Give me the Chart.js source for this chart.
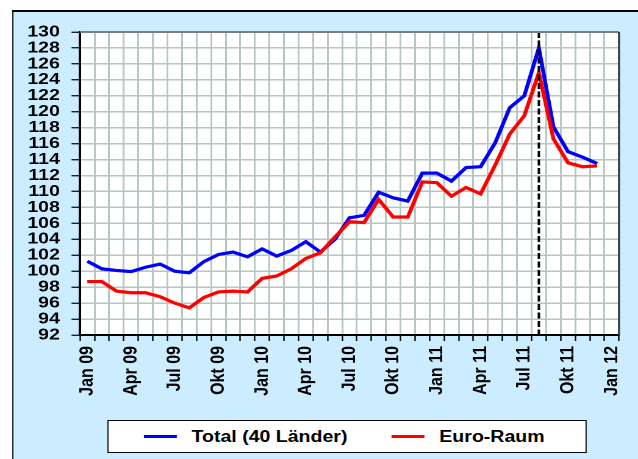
<!DOCTYPE html>
<html>
<head>
<meta charset="utf-8">
<script src="https://cdn.jsdelivr.net/npm/chart.js@4.4.1/dist/chart.umd.min.js"></script>
<style>
  html, body { margin: 0; padding: 0; background: #fff; overflow: hidden; }
  /* the original picture is stretched sideways, so the whole stage is too */
  #stage { position: absolute; left: 0; top: 0; width: 523px; height: 459px; transform: scaleX(1.2199); transform-origin: 0 0; }
  #frame { position: absolute; left: 9.6px; top: 9.5px; width: 540px; height: 470px; background: #CCECFF; border-top: 2px solid #000; border-left: 1.4px solid #000; }
  #wrap { position: absolute; left: 0; top: 0; width: 523px; height: 459px; }
  #legend { position: absolute; left: 87.7px; top: 420px; width: 393.5px; height: 33px; box-sizing: border-box; background: #fff; border: 1.5px solid #000;
            display: flex; align-items: center; padding-left: 29.7px; font: bold 16px "Liberation Sans", Arial, sans-serif; line-height: 16px; color: #000; white-space: nowrap; }
  .item { display: flex; align-items: center; flex-shrink: 0; margin-right: 36.7px; }
  .swatch { width: 26.2px; height: 3px; margin-right: 12.5px; flex-shrink: 0; }
</style>
</head>
<body>
<div id="stage">
  <div id="frame"></div>
  <div id="wrap"><canvas id="myChart"></canvas></div>
  <div id="legend"></div>
</div>
<script>
// monthly categories, Jan 09 .. Jan 12
const months = ['Jan 09', 'Feb 09', 'Mär 09', 'Apr 09', 'Mai 09', 'Jun 09', 'Jul 09', 'Aug 09', 'Sep 09', 'Okt 09', 'Nov 09', 'Dez 09',
                'Jan 10', 'Feb 10', 'Mär 10', 'Apr 10', 'Mai 10', 'Jun 10', 'Jul 10', 'Aug 10', 'Sep 10', 'Okt 10', 'Nov 10', 'Dez 10',
                'Jan 11', 'Feb 11', 'Mär 11', 'Apr 11', 'Mai 11', 'Jun 11', 'Jul 11', 'Aug 11', 'Sep 11', 'Okt 11', 'Nov 11', 'Dez 11',
                'Jan 12'];

const totalLaender = [101.25, 100.3, 100.1, 99.95, 100.5, 100.9, 100.0, 99.8, 101.2, 102.1, 102.4, 101.8,
                      102.8, 101.9, 102.6, 103.7, 102.4, 104.0, 106.7, 107.0, 109.9, 109.2, 108.8, 112.3,
                      112.3, 111.3, 113.0, 113.1, 116.1, 120.5, 122.0, 128.0, 118.1, 115.0, 114.3, 113.5];

const euroRaum = [98.7, 98.7, 97.5, 97.3, 97.3, 96.8, 96.0, 95.4, 96.7, 97.4, 97.5, 97.4,
                  99.1, 99.4, 100.3, 101.6, 102.3, 104.3, 106.2, 106.1, 109.0, 106.8, 106.8, 111.2,
                  111.1, 109.4, 110.5, 109.7, 113.3, 117.2, 119.5, 124.9, 116.6, 113.6, 113.1, 113.2];

const yMin = 92, yMax = 130, yStep = 2;
const markerMonth = 'Aug 11';   // dashed line

const FONT = '"Liberation Sans", Arial, sans-serif';
const gridColor = '#B6C6C0';

const plotFrame = {
	id: 'plotFrame',
	beforeDraw(chart) {
		const a = chart.chartArea, ctx = chart.ctx;
		ctx.save();
		ctx.fillStyle = '#fff';
		ctx.fillRect(a.left, a.top, a.right - a.left, a.bottom - a.top);
		ctx.restore();
	},
	afterDatasetsDraw(chart) {
		const a = chart.chartArea, ctx = chart.ctx;
		const x = chart.scales.x.getPixelForValue(months.indexOf(markerMonth));
		ctx.save();
		ctx.strokeStyle = '#000';
		ctx.lineWidth = 2;
		ctx.setLineDash([6, 2.5]);
		ctx.beginPath();
		ctx.moveTo(x, a.top);
		ctx.lineTo(x, a.bottom);
		ctx.stroke();
		ctx.setLineDash([]);
		// top + right edge of the plot
		ctx.strokeStyle = '#7C7C7C';
		ctx.lineWidth = 2;
		ctx.beginPath();
		ctx.moveTo(a.left, a.top);
		ctx.lineTo(a.right, a.top);
		ctx.stroke();
		ctx.strokeStyle = '#3C3C3C';
		ctx.lineWidth = 1.7;
		ctx.beginPath();
		ctx.moveTo(a.right, a.top);
		ctx.lineTo(a.right, a.bottom);
		ctx.stroke();
		ctx.restore();
	}
};

var ctx = document.getElementById('myChart').getContext('2d');
let config = {
	type: 'line',
	data: {
		labels: months,
		datasets: [{
			label: 'Total (40 Länder)',
			data: totalLaender,
			borderColor: '#0000FF',
			backgroundColor: '#0000FF',
			borderWidth: 3.2,
			pointRadius: 0,
			tension: 0,
			order: 1
		}, {
			label: 'Euro-Raum',
			data: euroRaum,
			borderColor: '#FF0000',
			backgroundColor: '#FF0000',
			borderWidth: 3.2,
			pointRadius: 0,
			tension: 0,
			order: 0
		}]
	},
	options: {
		responsive: true,
		maintainAspectRatio: false,
		animation: false,
		devicePixelRatio: 2,
		layout: { padding: { left: 0, right: 15.6, top: 32, bottom: 0 } },
		plugins: {
			legend: { display: false },
			tooltip: { enabled: false }
		},
		scales: {
			x: {
				offset: true,
				grid: { offset: true, color: gridColor, lineWidth: 1.5, tickLength: 6, tickColor: '#000', tickWidth: 1.2 },
				border: { color: '#000', width: 2 },
				ticks: {
					autoSkip: false, minRotation: 90, maxRotation: 90, padding: 5, color: '#000',
					font: { family: FONT, size: 16, weight: 'bold' },
					callback: function (val, i) { return i % 3 === 0 ? this.getLabelForValue(val) : ''; }
				},
				afterFit: function (scale) {
					scale.height = 124;
					scale.paddingLeft = 0;
					scale.paddingRight = 0;
				}
			},
			y: {
				min: yMin,
				max: yMax,
				grid: { color: gridColor, lineWidth: 1.5, tickLength: 7, tickColor: '#000', tickWidth: 1.2 },
				border: { color: '#000', width: 2 },
				ticks: { stepSize: yStep, autoSkip: false, padding: 9.5, color: '#000', font: { family: FONT, size: 16, weight: 'bold' } },
				afterFit: function (scale) { scale.width = 65.6; }
			}
		}
	},
	plugins: [plotFrame]
};

var myChart = new Chart(ctx, config);

// legend box built from the datasets
const legendEl = document.getElementById('legend');
myChart.data.datasets.forEach(function (ds) {
	const item = document.createElement('div');
	item.className = 'item';
	const sw = document.createElement('span');
	sw.className = 'swatch';
	sw.style.background = ds.borderColor;
	const txt = document.createElement('span');
	txt.textContent = ds.label;
	item.appendChild(sw);
	item.appendChild(txt);
	legendEl.appendChild(item);
});
</script>
</body>
</html>
